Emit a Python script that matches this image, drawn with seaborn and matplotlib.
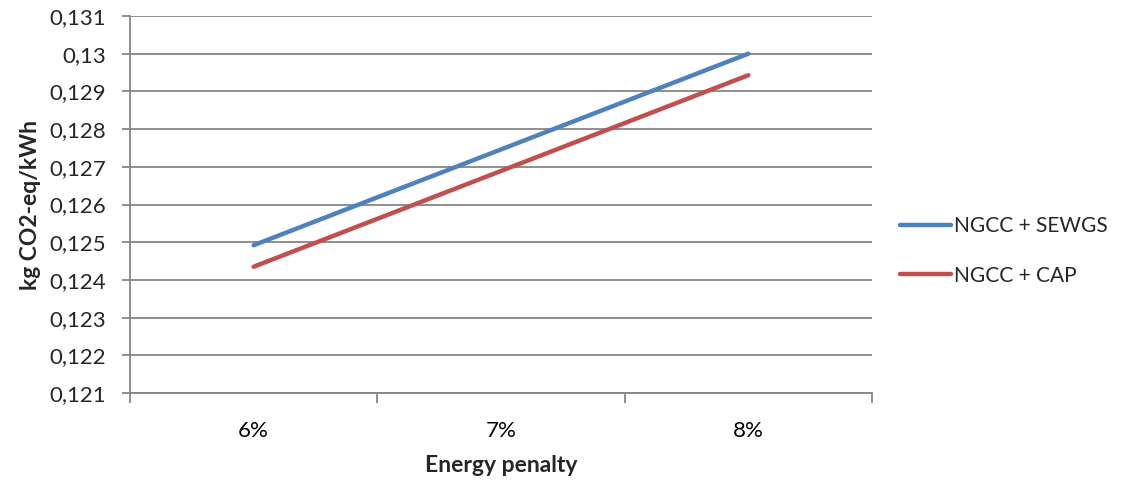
import matplotlib
matplotlib.use("Agg")
import matplotlib.pyplot as plt
import seaborn as sns
import pandas as pd
from matplotlib.ticker import FixedLocator, FuncFormatter
from matplotlib.lines import Line2D

categories = ["6%", "7%", "8%"]
sewgs = [0.12492, 0.12746, 0.13000]
cap = [0.12435, 0.12689, 0.12943]
series_names = ["NGCC + SEWGS", "NGCC + CAP"]
y_ticks = [0.121, 0.122, 0.123, 0.124, 0.125, 0.126, 0.127, 0.128, 0.129, 0.130, 0.131]

df = pd.DataFrame({
    "x": list(range(len(categories))) * 2,
    "y": sewgs + cap,
    "series": [series_names[0]] * 3 + [series_names[1]] * 3,
})

sns.set_theme(style="white")
plt.rcParams["font.family"] = ["Lato", "DejaVu Sans"]

fig = plt.figure(figsize=(11.43, 4.84), dpi=100)
ax = fig.add_axes([130 / 1143, (484 - 393) / 484, (872 - 130) / 1143, (393 - 16) / 484])

sns.lineplot(data=df, x="x", y="y", hue="series",
             palette=["#4F81BD", "#C0504D"], linewidth=3.2, ax=ax,
             legend=False, solid_capstyle="round")

fs = 16
ax.set_xlim(-0.5, 2.5)
ax.set_ylim(0.121, 0.131)
ax.set_yticks(y_ticks)
ax.yaxis.set_major_formatter(FuncFormatter(lambda v, p: ("%g" % round(v, 3)).replace(".", ",")))
ax.set_xticks(range(len(categories)))
ax.set_xticklabels(categories)
ax.xaxis.set_minor_locator(FixedLocator([-0.5, 0.5, 1.5, 2.5]))
ax.tick_params(axis="x", which="major", length=0, pad=20, labelsize=fs, colors="black")
ax.tick_params(axis="x", which="minor", length=7, width=1.3, color="#868686", bottom=True)
ax.tick_params(axis="y", which="major", length=6, width=1.3, color="#868686", left=True,
               labelsize=fs, pad=11)
ax.grid(axis="y", color="#868686", linewidth=1.3)
ax.set_axisbelow(True)
for s in ["top", "right"]:
    ax.spines[s].set_visible(False)
for s in ["left", "bottom"]:
    ax.spines[s].set_color("#868686")
    ax.spines[s].set_linewidth(1.3)

ax.set_xlabel("Energy penalty", fontsize=16.5, fontweight="bold", labelpad=10)
ax.set_ylabel("kg CO2-eq/kWh", fontsize=16.5, fontweight="bold", labelpad=6)

handles = [Line2D([0], [0], color=c, lw=3.2, solid_capstyle="round") for c in ["#4F81BD", "#C0504D"]]
fig.legend(handles, series_names, loc="center left", bbox_to_anchor=(900 / 1143, 1 - 251 / 484),
           frameon=False, fontsize=15, handlelength=2.45, handletextpad=0.15, labelspacing=1.4,
           borderaxespad=0, borderpad=0)

fig.savefig("out.png", dpi=100)
